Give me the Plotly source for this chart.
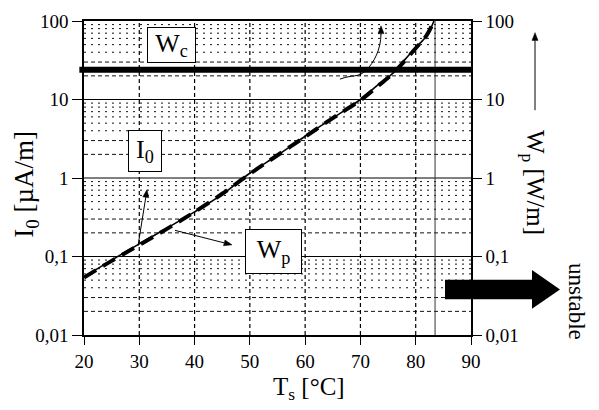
import math
import plotly.graph_objects as go

# Sensor temperature [°C]
temp_c = [20, 25, 30, 35, 40, 45, 50, 55, 60, 65, 70, 73, 76, 78, 80, 82, 83.3]
# Leakage current I0 [µA/m]
i0_ua_per_m = [0.055, 0.09, 0.145, 0.23, 0.37, 0.62, 1.15, 1.95, 3.4, 5.8, 10, 15, 22, 32, 46, 65, 100]
# Dissipated power Wp [W/m]
wp_w_per_m = [0.054, 0.088, 0.14, 0.225, 0.37, 0.63, 1.13, 1.95, 3.35, 5.8, 9.8, 14.5, 22, 31, 45, 66, 100]
# Cooling capacity Wc [W/m]
wc_w_per_m = 24
# Temperature where the curves run away
runaway_temp = 83.5

x_ticks = [20, 30, 40, 50, 60, 70, 80, 90]
y_ticks = [0.01, 0.1, 1, 10, 100]
y_tick_text = ["0,01", "0,1", "1", "10", "100"]

SERIF = "Liberation Serif, Times New Roman, DejaVu Serif, serif"

# plot area in page pixels
PL, PR, PT, PB = 84, 471, 11, 335
W, H = 599, 410


def fx(px):
    return (px - PL) / (PR - PL)


def fy(py):
    return (PB - py) / (PB - PT)


fig = go.Figure()

fig.add_trace(go.Scatter(
    x=temp_c, y=i0_ua_per_m, mode="lines", name="I0",
    line=dict(color="black", width=1.6, shape="spline"), yaxis="y",
))
fig.add_trace(go.Scatter(
    x=temp_c, y=wp_w_per_m, mode="lines", name="Wp",
    line=dict(color="black", width=4, dash="14px,8px", shape="spline"), yaxis="y2",
))

shapes = []
# grid: solid decades, dashed at 2 and 3, dotted at 4..9
for d in [0.01, 0.1, 1, 10]:
    if d > 0.01:
        shapes.append(dict(type="line", xref="paper", yref="y", x0=0, x1=1, y0=d, y1=d,
                           line=dict(color="black", width=1), layer="below"))
    for m in range(2, 10):
        v = m * d
        dash = "4px,3px" if m in (2, 3) else "2px,5px"
        shapes.append(dict(type="line", xref="paper", yref="y", x0=0, x1=1, y0=v, y1=v,
                           line=dict(color="#111", width=1, dash=dash), layer="below"))
for t in x_ticks[1:-1]:
    shapes.append(dict(type="line", xref="x", yref="paper", x0=t, x1=t, y0=0, y1=1,
                       line=dict(color="black", width=1.2, dash="4px,3px"), layer="below"))
# runaway limit
shapes.append(dict(type="line", xref="x", yref="paper", x0=runaway_temp, x1=runaway_temp,
                   y0=0, y1=1, line=dict(color="#333", width=1)))
# cooling capacity
shapes.append(dict(type="line", xref="paper", yref="y2", x0=-0.012, x1=1.004,
                   y0=wc_w_per_m, y1=wc_w_per_m, line=dict(color="black", width=6)))
# curved pointer toward the right axis
shapes.append(dict(
    type="path", xref="paper", yref="paper",
    path=(f"M{fx(340)},{fy(71)} C{fx(352)},{fy(66)} {fx(358)},{fy(70)} {fx(366)},{fy(62)} "
          f"S{fx(381)},{fy(40)} {fx(381)},{fy(24)}"),
    line=dict(color="black", width=1),
))


def pointer(tip_x, tip_y, tail_x, tail_y, head=8, half=3):
    dx, dy = tip_x - tail_x, tip_y - tail_y
    n = math.hypot(dx, dy)
    ux, uy = dx / n, dy / n
    bx, by = tip_x - ux * head, tip_y - uy * head
    shapes.append(dict(type="line", xref="paper", yref="paper",
                       x0=fx(tail_x), y0=fy(tail_y), x1=fx(bx), y1=fy(by),
                       line=dict(color="black", width=1)))
    p1 = (bx - uy * half, by + ux * half)
    p2 = (bx + uy * half, by - ux * half)
    shapes.append(dict(type="path", xref="paper", yref="paper",
                       path=(f"M{fx(tip_x)},{fy(tip_y)} L{fx(p1[0])},{fy(p1[1])} "
                             f"L{fx(p2[0])},{fy(p2[1])} Z"),
                       fillcolor="black", line=dict(color="black", width=0.5)))


pointer(147, 185, 138, 243)
pointer(232, 242, 175, 227)
pointer(535, 23, 535, 103)
pointer(381, 16, 381, 25)

# "unstable" arrow
pts = [(445, 278), (532, 278), (532, 268), (560, 288), (532, 308), (532, 298), (445, 298)]
path = "M" + " L".join(f"{fx(a)},{fy(b)}" for a, b in pts) + " Z"
shapes.append(dict(type="path", xref="paper", yref="paper", path=path,
                   fillcolor="black", line=dict(color="black", width=0)))

annotations = []


def box(text, cx, cy, w, h):
    annotations.append(dict(
        text=text, xref="paper", yref="paper", x=fx(cx), y=fy(cy),
        xanchor="center", yanchor="middle", showarrow=False,
        width=w, height=h, bgcolor="white", bordercolor="black", borderwidth=1, borderpad=0,
        font=dict(family=SERIF, size=26, color="black"),
    ))


box("W<sub>c</sub>", 171, 36, 47, 34)
box("I<sub>0</sub>", 145, 145, 32, 40)
box("W<sub>p</sub>", 273, 249, 55, 43)

# axis titles
annotations.append(dict(
    text="I<sub>0</sub> [µA/m]", xref="paper", yref="paper", x=fx(26), y=fy(180),
    xanchor="center", yanchor="middle", textangle=-90, showarrow=False,
    font=dict(family=SERIF, size=27, color="black"),
))
annotations.append(dict(
    text="W<sub>p</sub> [W/m]", xref="paper", yref="paper", x=fx(533), y=fy(177),
    xanchor="center", yanchor="middle", textangle=90, showarrow=False,
    font=dict(family=SERIF, size=25, color="black"),
))
annotations.append(dict(
    text="T<sub>s</sub> [°C]", xref="paper", yref="paper", x=fx(309), y=fy(390),
    xanchor="center", yanchor="middle", showarrow=False,
    font=dict(family=SERIF, size=25, color="black"),
))
annotations.append(dict(
    text="unstable", xref="paper", yref="paper", x=fx(577), y=fy(300),
    xanchor="center", yanchor="middle", textangle=90, showarrow=False,
    font=dict(family=SERIF, size=23, color="black"),
))

tick_font = dict(family=SERIF, size=19, color="black")

fig.update_layout(
    width=W, height=H,
    margin=dict(l=PL, r=W - PR, t=PT, b=H - PB),
    paper_bgcolor="white", plot_bgcolor="white",
    showlegend=False,
    shapes=shapes, annotations=annotations,
    xaxis=dict(
        range=[20, 90], tickvals=x_ticks, ticktext=[str(t) for t in x_ticks],
        ticks="outside", ticklen=8, tickwidth=1, tickcolor="black",
        showline=True, linecolor="black", linewidth=1.5, mirror=True,
        showgrid=False, zeroline=False, tickfont=tick_font,
    ),
    yaxis=dict(
        type="log", range=[-2, 2], tickvals=y_ticks, ticktext=y_tick_text,
        ticks="outside", ticklen=10, tickwidth=1, tickcolor="black",
        showline=True, linecolor="black", linewidth=1.5,
        showgrid=False, zeroline=False, tickfont=tick_font,
    ),
    yaxis2=dict(
        type="log", range=[-2, 2], tickvals=y_ticks, ticktext=y_tick_text,
        overlaying="y", side="right",
        ticks="outside", ticklen=9, tickwidth=1, tickcolor="black",
        showline=True, linecolor="black", linewidth=1.5,
        showgrid=False, zeroline=False, tickfont=tick_font,
    ),
)

fig.write_html("out.html")
